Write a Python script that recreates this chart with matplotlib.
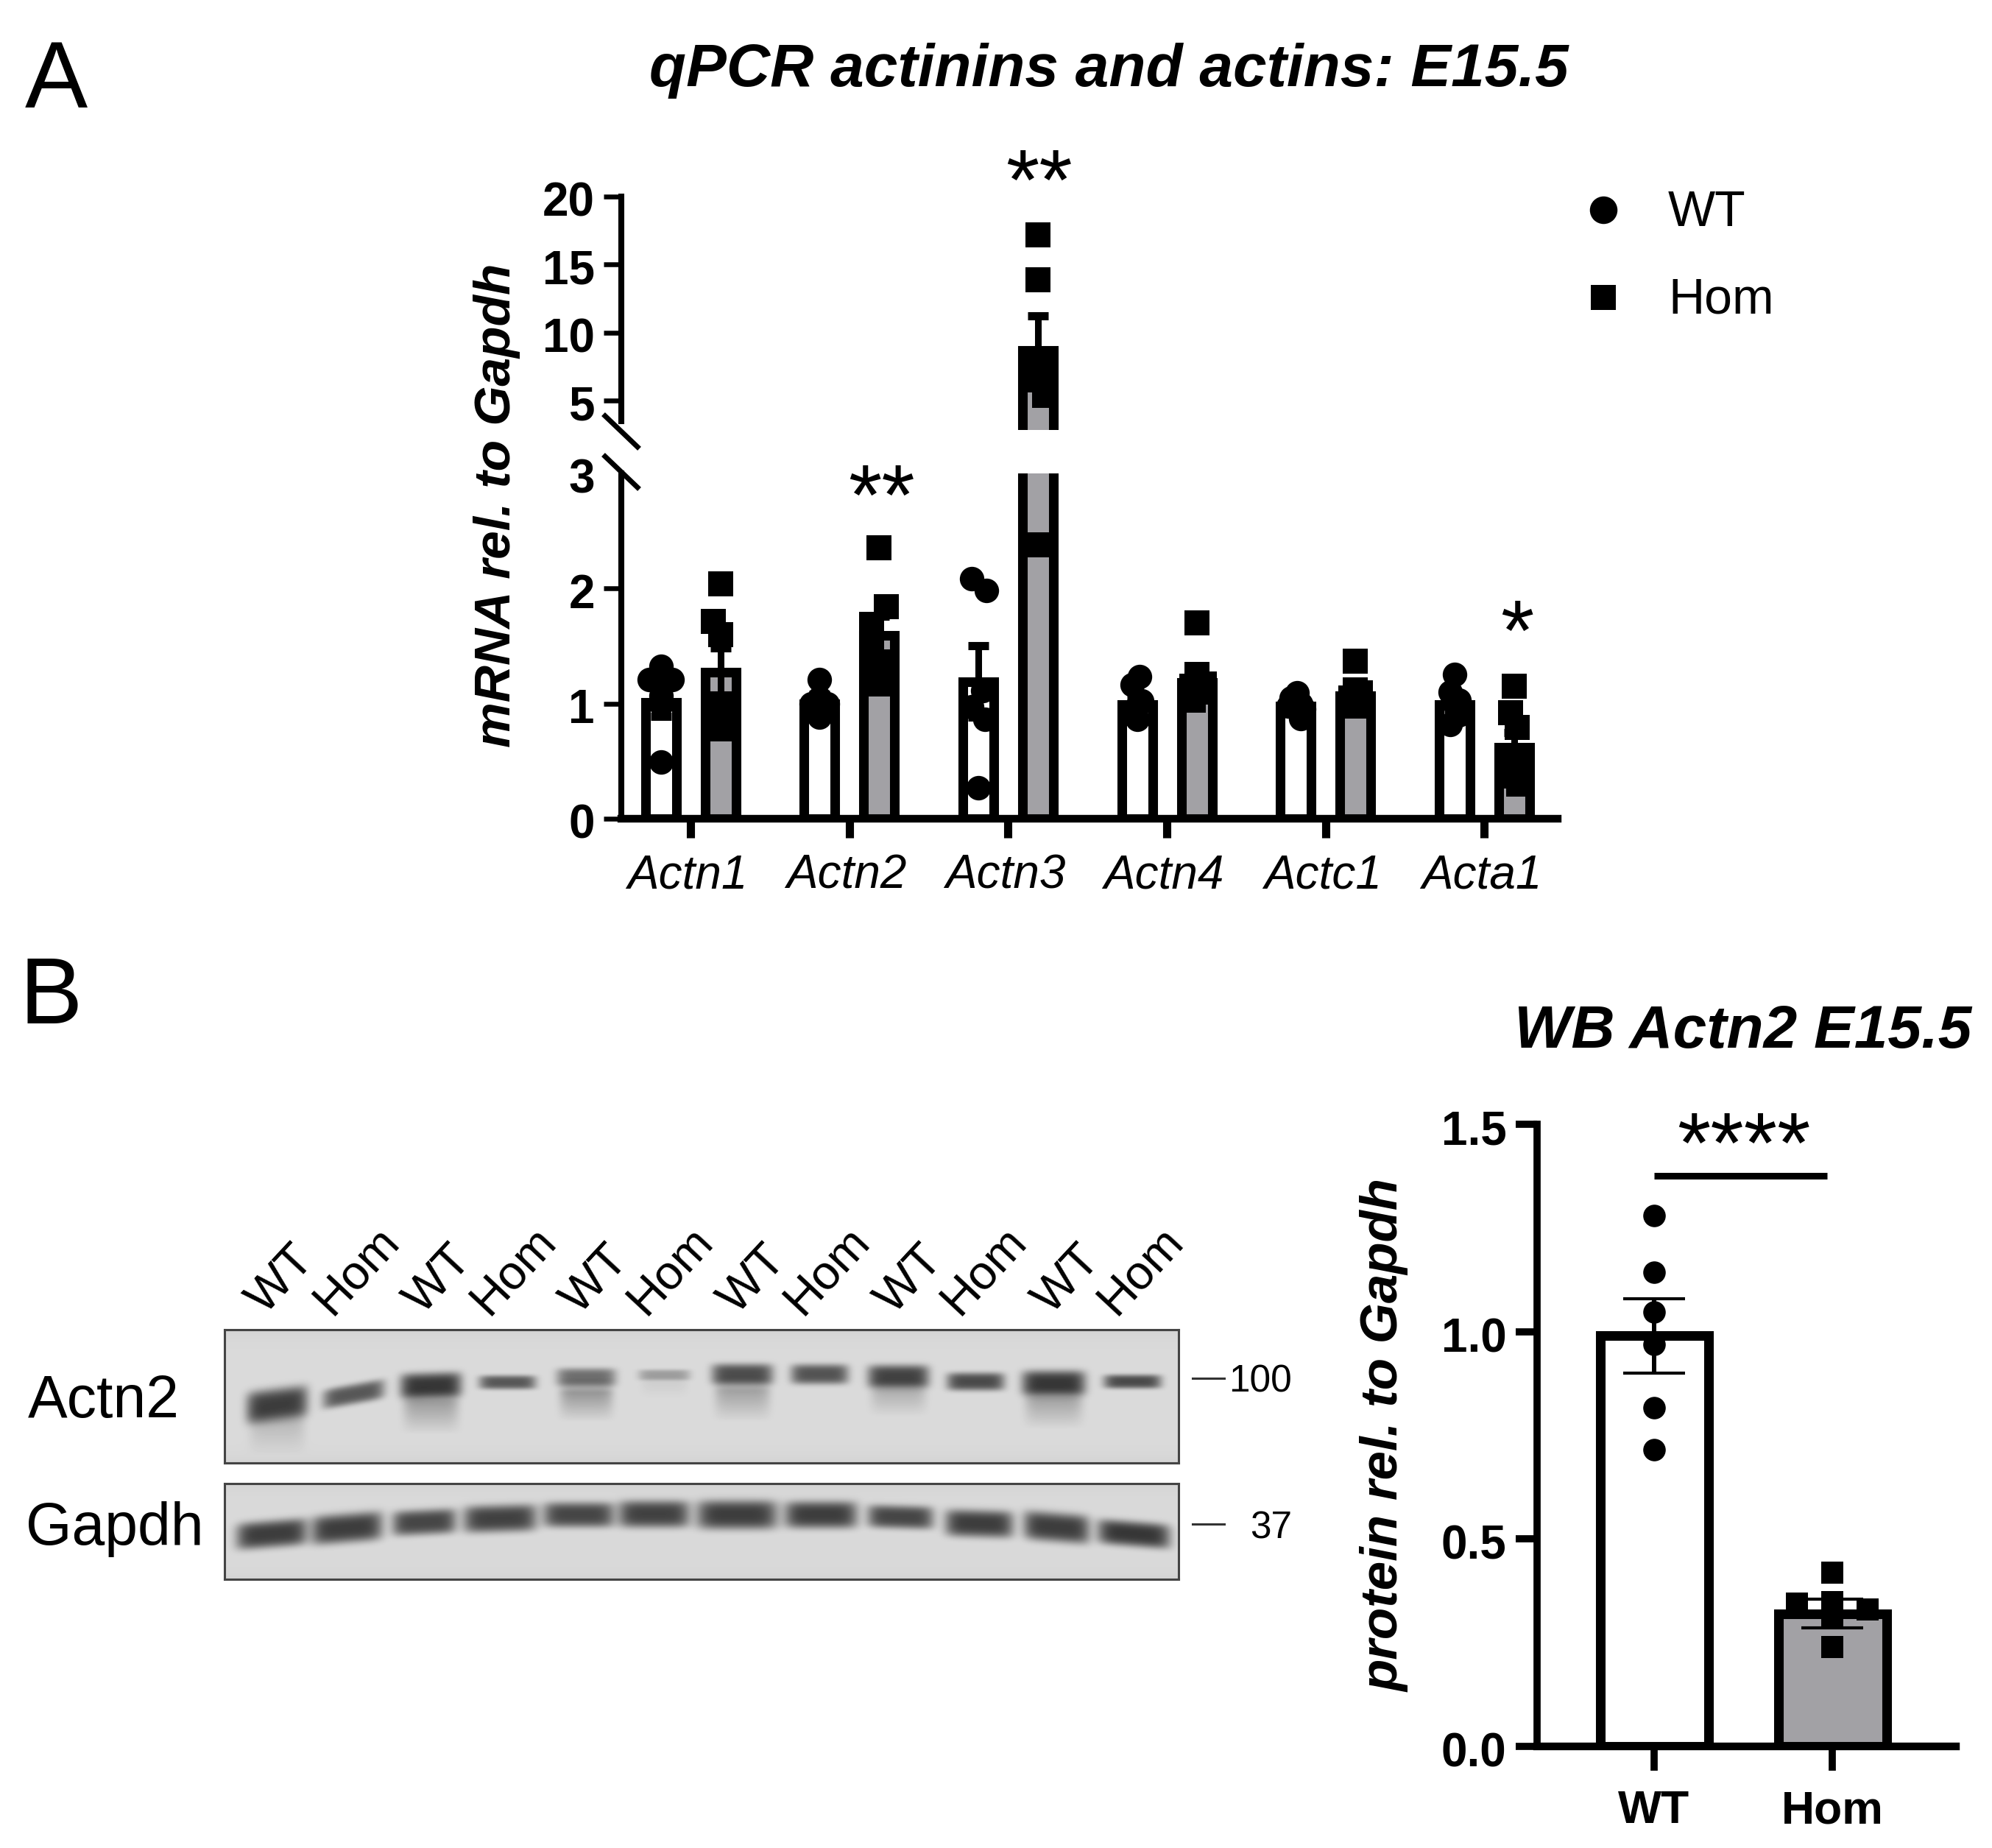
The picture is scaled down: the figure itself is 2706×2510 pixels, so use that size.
#!/usr/bin/env python
import numpy as np
import matplotlib
matplotlib.use('Agg')
import matplotlib.pyplot as plt
from matplotlib.lines import Line2D
from matplotlib.transforms import ScaledTranslation

plt.rcParams['font.family'] = ['Liberation Sans', 'DejaVu Sans']

W, H = 2706, 2510

# panel A values
genes = ['Actn1', 'Actn2', 'Actn3', 'Actn4', 'Actc1', 'Acta1']
wt_mean = [1.01, 1.0, 1.19, 0.99, 0.98, 0.99]
wt_sem = [0.12, 0.08, 0.31, 0.06, 0.04, 0.07]
hom_mean = [1.27, 1.59, 8.7, 1.18, 1.07, 0.62]
hom_sem = [0.21, 0.17, 2.5, 0.12, 0.07, 0.13]
wt_points = [
    [1.32, 1.21, 1.21, 1.07, 0.99, 0.49],
    [1.21, 1.05, 1.0, 1.0, 0.95, 0.88],
    [2.08, 1.98, 1.11, 0.97, 0.86, 0.27],
    [1.235, 1.16, 1.02, 0.98, 0.9, 0.86],
    [1.09, 1.05, 1.0, 0.98, 0.95, 0.87],
    [1.255, 1.1, 1.03, 1.0, 0.9, 0.82],
]
wt_jitter = [
    [0, -0.07, 0.07, 0, 0, 0],
    [0, 0, -0.05, 0.05, 0, 0],
    [-0.042, 0.05, 0.03, -0.042, 0.04, 0],
    [0.014, -0.03, 0.03, 0, -0.02, 0],
    [0.01, -0.03, 0.03, -0.05, 0.05, 0.03],
    [0, -0.03, 0.03, 0, 0.03, -0.03],
]
hom_points = [
    [2.04, 1.71, 1.6, 1.0, 0.86, 0.78],
    [2.35, 1.84, 1.69, 1.56, 1.36, 1.17],
    [17.2, 13.9, 7.4, 6.5, 5.4, 2.38],
    [1.7, 1.255, 1.17, 1.15, 1.1, 1.03],
    [1.37, 1.12, 1.09, 1.05, 1.0, 0.975],
    [1.15, 0.92, 0.79, 0.5, 0.37, 0.3],
]
hom_jitter = [
    [0, -0.042, 0, 0, 0, 0],
    [0, 0.046, -0.046, -0.046, 0, -0.01],
    [0, 0, 0, -0.01, 0.04, 0],
    [0, 0, 0.05, -0.03, 0, -0.02],
    [0, 0, 0.03, -0.03, 0, 0],
    [0, -0.023, 0.018, 0, -0.02, 0.03],
]
stars_a = ['**', '**', '*']

# panel B bar chart values
wb_groups = ['WT', 'Hom']
wb_mean = [0.99, 0.32]
wb_sem = [0.09, 0.035]
wb_wt_points = [1.28, 1.143, 1.047, 0.97, 0.816, 0.715]
wb_hom_points = [0.419, 0.348, 0.344, 0.33, 0.31, 0.24]
wb_hom_jitter = [0, 0, -0.2, 0.2, 0, 0]

lanes = ['WT', 'Hom'] * 6
actn2_x = [376, 480, 585, 689, 796, 902, 1008, 1113, 1220, 1325, 1431, 1538]
actn2_y = [1907, 1893, 1881, 1877, 1870, 1867, 1866, 1866, 1869, 1876, 1878, 1876]
actn2_w = [83, 83, 83, 77, 80, 70, 83, 78, 83, 78, 86, 78]
actn2_h = [32, 20, 25, 14, 18, 11, 21, 20, 23, 18, 25, 14]
actn2_dark = [0.72, 0.6, 0.75, 0.6, 0.5, 0.28, 0.65, 0.62, 0.7, 0.66, 0.75, 0.66]
actn2_smear = [0.15, 0, 0.27, 0, 0.3, 0.05, 0.25, 0, 0.2, 0, 0.25, 0]
actn2_smear_end = [1977, 0, 1948, 0, 1931, 1900, 1931, 0, 1924, 0, 1941, 0]
actn2_slope = [-0.12, -0.18, -0.03, 0, 0, 0, 0, 0, 0, 0, 0, 0]
gapdh_x = [369, 471, 576, 679, 786, 888, 1001, 1115, 1223, 1330, 1435, 1540]
gapdh_y = [2083, 2075, 2067, 2062, 2057, 2056, 2057, 2057, 2060, 2069, 2074, 2083]
gapdh_w = [96, 96, 86, 99, 96, 96, 109, 98, 89, 92, 89, 98]
gapdh_h = [27, 29, 25, 27, 25, 27, 29, 27, 23, 27, 29, 25]
gapdh_dark = [0.72, 0.72, 0.68, 0.7, 0.68, 0.7, 0.72, 0.72, 0.68, 0.72, 0.72, 0.75]
gapdh_slope = [-0.08, -0.08, -0.05, -0.03, 0, 0, 0, 0, 0.03, 0.03, 0.08, 0.08]


def box(x0, y0, x1, y1):
    # pixel box, measured from the top left, to figure fractions
    return [x0 / W, 1 - y1 / H, (x1 - x0) / W, (y1 - y0) / H]


def ftext(x, y, s, **kw):
    kw.setdefault('ha', 'center')
    kw.setdefault('va', 'center')
    return fig.text(x / W, 1 - y / H, s, **kw)


def fline(xs, ys, **kw):
    fig.add_artist(Line2D([x / W for x in xs], [1 - y / H for y in ys],
                          transform=fig.transFigure, **kw))


def nudge(labels, dx, dy):
    # shift tick labels by some pixels
    for t in labels:
        t.set_transform(t.get_transform() + ScaledTranslation(dx / 100.0, -dy / 100.0, fig.dpi_scale_trans))


def blot(frame, xs, ys, ws, hs, darks, slopes, smear=None, smear_end=None):
    x0, y0, x1, y1 = frame
    ax = fig.add_axes(box(x0, y0, x1, y1))
    gx, gy = np.meshgrid(np.arange(x0, x1), np.arange(y0, y1))
    img = np.ones(gx.shape) * 0.855
    # slightly darker along the edges
    img -= 0.03 * np.exp(-(gy - y0) / 12.0) + 0.03 * np.exp(-(y1 - gy) / 12.0)
    for i in range(len(xs)):
        dx = (gx - xs[i]) / (ws[i] / 2.0)
        dy = (gy - ys[i] - slopes[i] * (gx - xs[i])) / (hs[i] * 0.72)
        img *= 1 - darks[i] * np.exp(-dx**6 - dy**4 - dy**2 * 0.3)
        if smear is not None and smear[i] > 0:
            t = (gy - ys[i]) / float(smear_end[i] - ys[i])
            tail = np.exp(-(dx / 0.9)**6) * np.clip(t * 3, 0, 1) * np.clip((1 - t) * 1.6, 0, 1)
            img *= 1 - smear[i] * tail
    ax.imshow(img, cmap='gray', vmin=0, vmax=1, aspect='auto',
              extent=[x0, x1, y1, y0], interpolation='bilinear')
    ax.set_xticks([])
    ax.set_yticks([])
    for s in ax.spines.values():
        s.set_linewidth(2.2)
        s.set_color('#444444')
    return ax


fig = plt.figure(figsize=(W / 100.0, H / 100.0), dpi=100)

# panel A
grey = '#a2a1a5'
tick_px = 215.7
off = 40.5 / tick_px
bar_w = 42 / tick_px
xlim = (-94 / tick_px, (2116 - 938) / tick_px)
ax_low = fig.add_axes(box(844, 642.5, 2116, 1112))
ax_top = fig.add_axes(box(844, 267, 2116, 584))
ax_low.set_ylim(0, 3)
ax_top.set_ylim(2.83, 20)
xpos = np.arange(len(genes))

for ax, ok in ((ax_low, lambda v: v < 3), (ax_top, lambda v: v >= 3)):
    ax.patch.set_alpha(0)
    ax.set_xlim(xlim)
    ax.bar(xpos - off, wt_mean, bar_w, color='white', edgecolor='black', linewidth=9.4)
    ax.bar(xpos + off, hom_mean, bar_w, color=grey, edgecolor='black', linewidth=9.4)
    ax.errorbar(xpos - off, wt_mean, yerr=wt_sem, fmt='none', ecolor='black',
                elinewidth=6.5, capsize=10, capthick=8)
    ax.errorbar(xpos + off, hom_mean, yerr=hom_sem, fmt='none', ecolor='black',
                elinewidth=6.5, capsize=10, capthick=8)
    for i in xpos:
        wx = i - off + np.array(wt_jitter[i])
        wy = np.array(wt_points[i])
        hx = i + off + np.array(hom_jitter[i])
        hy = np.array(hom_points[i])
        ax.plot(wx[ok(wy)], wy[ok(wy)], 'o', color='black', ms=24, mew=0)
        ax.plot(hx[ok(hy)], hy[ok(hy)], 's', color='black', ms=25, mew=0)
    for s in ('top', 'right'):
        ax.spines[s].set_visible(False)
    ax.spines['left'].set_linewidth(5.8)

ax_low.set_yticks([0, 1, 2, 3])
ax_top.set_yticks([5, 10, 15, 20])
ax_top.spines['bottom'].set_visible(False)
ax_top.spines['left'].set_bounds(3.5, 20)
ax_top.set_xticks([])
ax_low.spines['bottom'].set_linewidth(7.5)
ax_low.spines['left'].set_bounds(0, 3)
ax_low.set_xticks(xpos)
ax_low.set_xticklabels(genes, fontsize=46, style='italic')
ax_low.tick_params(axis='x', width=8, length=19, pad=15)
for ax in (ax_low, ax_top):
    ax.tick_params(axis='y', width=4.7, length=17, pad=9, labelsize=46)
    for t in ax.get_yticklabels():
        t.set_fontweight('bold')
    nudge(ax.get_yticklabels(), 0, 3)
nudge(ax_low.get_xticklabels(), -4, 0)
# the 3 has a label but no tick mark in the break
ax_low.yaxis.get_major_ticks()[3].tick1line.set_visible(False)

# axis break marks
fline([822, 866], [565, 607], color='black', lw=5)
fline([822, 866], [620, 662], color='black', lw=5)

ftext(1506, 96, 'qPCR actinins and actins: E15.5', fontsize=59, fontweight='bold', style='italic')
ftext(76, 113, 'A', fontsize=92)
ftext(69, 1357, 'B', fontsize=92)
ftext(675, 686, 'mRNA rel. to Gapdh', fontsize=50, fontweight='bold', style='italic', rotation=90)

star_px = [(1198, 713), (1412, 285), (2061, 897)]
for s, (sx, sy) in zip(stars_a, star_px):
    ftext(sx, sy, s, fontsize=84, va='baseline')

# legend of panel A
fig.add_artist(Line2D([2178 / W], [1 - 285 / H], marker='o', ms=27, color='black', mew=0,
                      transform=fig.transFigure))
fig.add_artist(Line2D([2178 / W], [1 - 404 / H], marker='s', ms=24, color='black', mew=0,
                      transform=fig.transFigure))
ftext(2266, 289, 'WT', fontsize=49, ha='left')
ftext(2266, 408, 'Hom', fontsize=49, ha='left')

# panel B western blot
blot((305, 1806, 1601, 1987), actn2_x, actn2_y, actn2_w, actn2_h, actn2_dark, actn2_slope,
     actn2_smear, actn2_smear_end)
blot((305, 2015, 1601, 2145), gapdh_x, gapdh_y, gapdh_w, gapdh_h, gapdh_dark, gapdh_slope)

for i, name in enumerate(lanes):
    pair = i // 2
    if name == 'WT':
        lx, ly = 382 + 213.5 * pair, 1738
    else:
        lx, ly = 485 + 213 * pair, 1726
    ftext(lx, ly, name, fontsize=47, rotation=47)

ftext(38, 1904, 'Actn2', fontsize=58, ha='left')
ftext(35, 2077, 'Gapdh', fontsize=58, ha='left')
fline([1620, 1663], [1872, 1872], color='#333333', lw=2.2)
fline([1620, 1663], [2070, 2070], color='#333333', lw=2.2)
ftext(1755, 1877, '100', fontsize=37, ha='right')
ftext(1755, 2076, '37', fontsize=37, ha='right')

# panel B bar chart
ax_b = fig.add_axes(box(2088, 1527, 2657, 2372))
ax_b.patch.set_alpha(0)
bx = np.array([0, 1])
b_px = 242.0
ax_b.set_xlim(-159 / b_px, 410 / b_px)
ax_b.set_ylim(0, 1.5)
ax_b.bar(bx, wb_mean, 147 / b_px, color=['white', grey], edgecolor='black', linewidth=9.4)
ax_b.errorbar(bx, wb_mean, yerr=wb_sem, fmt='none', ecolor='black', elinewidth=4.3,
              capsize=30, capthick=3)
ax_b.plot(np.zeros(len(wb_wt_points)), wb_wt_points, 'o', color='black', ms=22, mew=0)
ax_b.plot(1 + np.array(wb_hom_jitter), wb_hom_points, 's', color='black', ms=21.5, mew=0)
ax_b.plot([0, 0.97], [1.375, 1.375], color='black', lw=6.5, solid_capstyle='butt')
for s in ('top', 'right'):
    ax_b.spines[s].set_visible(False)
ax_b.spines['left'].set_linewidth(7)
ax_b.spines['bottom'].set_linewidth(7.5)
ax_b.set_yticks([0, 0.5, 1.0, 1.5])
ax_b.set_yticklabels(['0.0', '0.5', '1.0', '1.5'], fontweight='bold')
ax_b.set_xticks(bx)
ax_b.set_xticklabels(wb_groups, fontsize=45, fontweight='bold')
ax_b.tick_params(axis='y', width=7, length=21, pad=9, labelsize=46)
ax_b.tick_params(axis='x', width=7, length=24, pad=18)
nudge(ax_b.get_yticklabels(), 0, 4)

ftext(2368, 1402, 'WB Actn2 E15.5', fontsize=59, fontweight='bold', style='italic')
ftext(1882, 1950, 'protein rel. to Gapdh', fontsize=51, fontweight='bold', style='italic', rotation=90)
ftext(2369, 1593, '****', fontsize=84, va='baseline')

fig.savefig('out.png', dpi=100)
